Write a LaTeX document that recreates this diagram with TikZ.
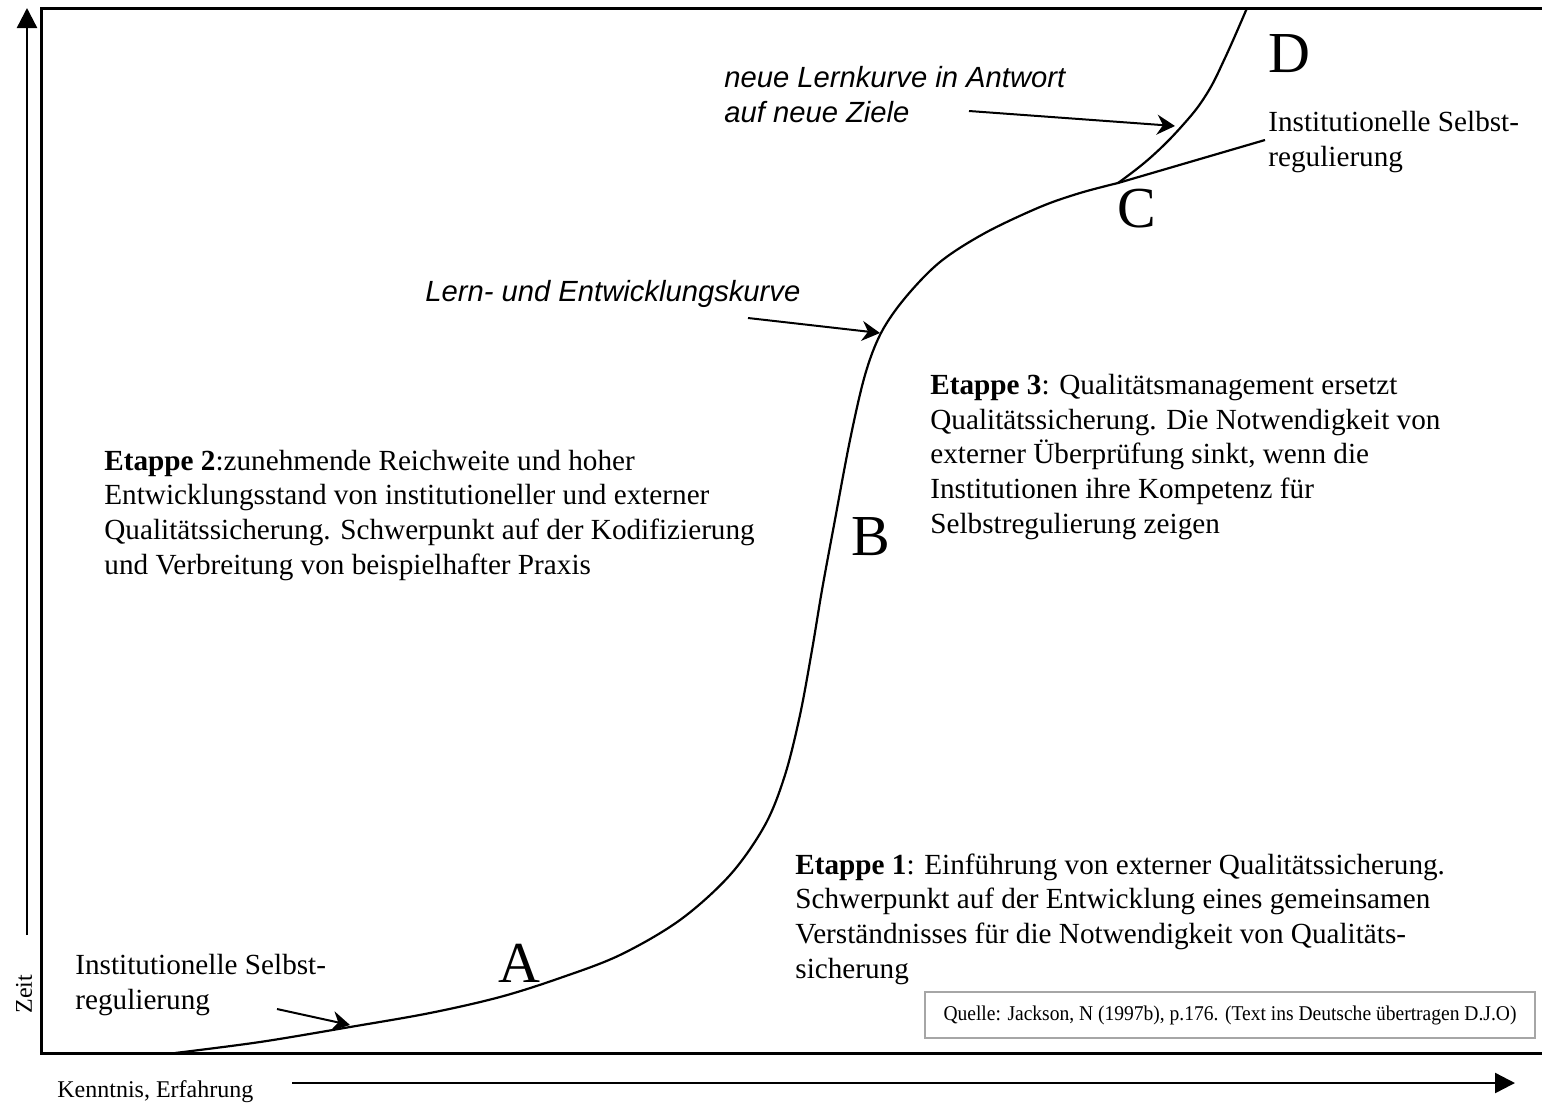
\documentclass[tikz,border=0pt]{standalone}
\usepackage{fontspec}
\setmainfont{Liberation Serif}
\setsansfont{Liberation Sans}
\usetikzlibrary{arrows.meta}

\begin{document}
\begin{tikzpicture}[x=0.5pt,y=-0.5pt,
  frameline/.style={line width=1.5pt},
  axisarrow/.style={line width=1.2pt,-{Triangle[length=10pt,width=10pt]}},
  pointer/.style={line width=1pt,-{Stealth[length=9pt,width=10pt,inset=3pt]}},
  curveline/.style={line width=1.1pt},
  % multi-line nodes: the base anchor sits on the last line
  body/.style={font=\fontsize{14.6}{17.3}\selectfont, align=left, anchor=base west, inner sep=0pt},
  note/.style={font=\sffamily\itshape\fontsize{14.6}{17.5}\selectfont, align=left, anchor=base west, inner sep=0pt},
  letter/.style={font=\fontsize{29}{29}\selectfont, anchor=base, inner sep=0pt},
  axislabel/.style={font=\fontsize{12}{14}\selectfont, inner sep=0pt}
]
\useasboundingbox (0,0) rectangle (1542,1104);
\fill[white] (0,0) rectangle (1542,1104);

% frame (open to the right)
\draw[frameline] (1542,8) -- (41,8) -- (41,1053) -- (1542,1053);

% axes
\coordinate (yfoot) at (27,935);
\coordinate (ytip) at (27,8);
\draw[axisarrow] (yfoot) -- (ytip);
\coordinate (xfoot) at (292,1083);
\coordinate (xtip) at (1515,1083);
\draw[axisarrow] (xfoot) -- (xtip);
\node[axislabel, rotate=90, anchor=base] (zeit) at (32,994) {Zeit};
\node[axislabel, anchor=base west] (kenntnis) at (57,1097) {Kenntnis, Erfahrung};

% learning and development curve
\coordinate (C) at (1118,183);
\draw[curveline] plot[smooth, tension=0.55] coordinates {
  (175,1053) (260,1042) (350,1027) (430,1013) (500,997) (560,978)
  (620,955) (680,920) (730,875) (765,825) (785,775) (800,715) (812,650)
  (822,590) (834,525) (850,440) (865,375) (881,333) (905,298)
  (940,262) (985,233) (1040,207) (1080,193) (1118,183)};
\coordinate (selbstend) at (1265,140);
\draw[curveline] (C) -- (selbstend);
% new learning curve
\draw[curveline] plot[smooth, tension=0.7] coordinates {
  (1118,183) (1150,158) (1182,126) (1206,95) (1225,58) (1247,8)};

% stage letters
\node[letter] (A) at (519,982) {A};
\node[letter] (B) at (871,555) {B};
\node[letter] (Clbl) at (1137,227) {C};
\node[letter] (D) at (1289,72) {D};

% labels with pointers
\node[body] (selbstlow) at (75,1009) {Institutionelle Selbst-\\regulierung};
\coordinate (p1s) at (277,1009);
\coordinate (p1e) at (350,1025);
\draw[pointer] (p1s) -- (p1e);

\node[body] (selbsthigh) at (1268,166) {Institutionelle Selbst-\\regulierung};

\node[note] (lernkurve) at (425,301) {Lern- und Entwicklungskurve};
\coordinate (p2s) at (748,318);
\coordinate (p2e) at (880,333);
\draw[pointer] (p2s) -- (p2e);

\node[note] (neue) at (724,122) {neue Lernkurve in Antwort\\auf neue Ziele};
\coordinate (p3s) at (969,111);
\coordinate (p3e) at (1175,126);
\draw[pointer] (p3s) -- (p3e);

% stage descriptions
\node[body] (etappe3) at (930,533) {\textbf{Etappe 3}: Qualitätsmanagement ersetzt\\
Qualitätssicherung. Die Notwendigkeit von\\
externer Überprüfung sinkt, wenn die\\
Institutionen ihre Kompetenz für\\
Selbstregulierung zeigen};

\node[body] (etappe2) at (104,574) {\textbf{Etappe 2}:zunehmende Reichweite und hoher\\
Entwicklungsstand von institutioneller und externer\\
Qualitätssicherung. Schwerpunkt auf der Kodifizierung\\
und Verbreitung von beispielhafter Praxis};

\node[body] (etappe1) at (795,978) {\textbf{Etappe 1}: Einführung von externer Qualitätssicherung.\\
Schwerpunkt auf der Entwicklung eines gemeinsamen\\
Verständnisses für die Notwendigkeit von Qualitäts-\\
sicherung};

% source box
\node[draw=black!35, line width=1pt, minimum width=305pt, minimum height=23pt,
      font=\fontsize{10.5}{12}\selectfont] (quelle) at (1230,1015)
  {\scalebox{0.93}[1]{Quelle: Jackson, N (1997b), p.176. (Text ins Deutsche übertragen D.J.O)}};
\end{tikzpicture}
\end{document}
